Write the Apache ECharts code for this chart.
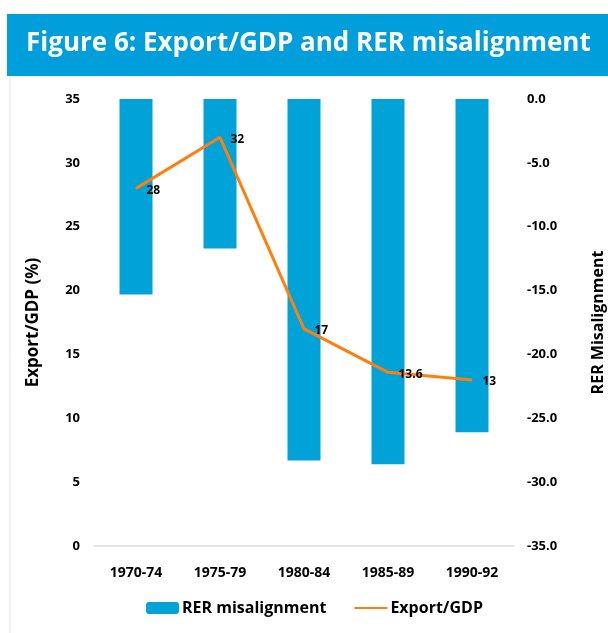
<!DOCTYPE html>
<html lang="en">
<head>
  <meta charset="UTF-8">
  <title>Figure 6</title>
  <style>
    html, body { margin: 0; padding: 0; background: #fff; }
    #main { width: 608px; height: 633px; }
  </style>
</head>
<body>
<div id="main"></div>
<script src="https://cdn.jsdelivr.net/npm/echarts@6/dist/echarts.min.js"></script>
<script type="text/javascript">
  const periods = ['1970-74', '1975-79', '1980-84', '1985-89', '1990-92']
  const rerMisalignment = [-15.3, -11.7, -28.3, -28.6, -26.1]
  const exportGdp = [28, 32, 17, 13.6, 13]

  const font = '"Open Sans", "Noto Sans", sans-serif'
  const Chart = echarts.init(document.getElementById('main'))

  const option = {
    animation: false,
    textStyle: {fontFamily: font},
    graphic: [
      {type: 'rect', shape: {x: 7, y: 14, width: 601, height: 62}, style: {fill: '#009edb'}},
      {type: 'line', shape: {x1: 10, y1: 76, x2: 10, y2: 633}, style: {stroke: '#e3e3e3', lineWidth: 1}}
    ],
    title: {
      text: 'Figure 6: Export/GDP and RER misalignment',
      left: 21,
      top: 26,
      textStyle: {color: '#fff', fontSize: 26, fontWeight: 'bold', fontFamily: font}
    },
    legend: {
      bottom: 12,
      left: 141,
      itemGap: 27,
      itemWidth: 33,
      itemHeight: 12,
      textStyle: {fontSize: 16, fontWeight: 'bold', color: '#000', fontFamily: font, padding: [0, 0, 0, -2]},
      data: [
        {name: 'RER misalignment'},
        {name: 'Export/GDP', itemStyle: {opacity: 0}}
      ]
    },
    grid: {left: 94, right: 94, top: 99, bottom: 87, outerBoundsMode: 'none', containLabel: false},
    xAxis: {
      type: 'category',
      data: periods,
      axisLine: {lineStyle: {color: '#d9d9d9', width: 1.5}},
      axisTick: {show: false},
      axisLabel: {fontSize: 14, fontWeight: 'bold', color: '#000', margin: 20}
    },
    yAxis: [
      {
        type: 'value',
        min: 0,
        max: 35,
        interval: 5,
        name: 'Export/GDP (%)',
        nameLocation: 'middle',
        nameRotate: 90,
        nameGap: 52,
        nameTextStyle: {fontSize: 17, fontWeight: 'bold', color: '#000'},
        splitLine: {show: false},
        axisLine: {show: false},
        axisTick: {show: false},
        axisLabel: {fontSize: 13, fontWeight: 'bold', color: '#000', margin: 14}
      },
      {
        type: 'value',
        min: -35,
        max: 0,
        interval: 5,
        position: 'right',
        name: 'RER Misalignment',
        nameLocation: 'middle',
        nameRotate: 90,
        nameGap: 76,
        nameTextStyle: {fontSize: 16, fontWeight: 'bold', color: '#000'},
        splitLine: {show: false},
        axisLine: {show: false},
        axisTick: {show: false},
        axisLabel: {
          fontSize: 13, fontWeight: 'bold', color: '#000', margin: 13,
          formatter: (v) => v.toFixed(1)
        }
      }
    ],
    series: [
      {
        name: 'RER misalignment',
        type: 'bar',
        yAxisIndex: 1,
        barWidth: 33,
        itemStyle: {color: '#00a3d7'},
        data: rerMisalignment
      },
      {
        name: 'Export/GDP',
        type: 'line',
        yAxisIndex: 0,
        symbol: 'circle',
        symbolSize: 1,
        showSymbol: true,
        lineStyle: {color: '#ff7f0e', width: 3},
        itemStyle: {color: '#ff7f0e'},
        label: {
          show: true,
          position: 'right',
          distance: 10,
          offset: [0, 2],
          fontSize: 12,
          fontWeight: 'bold',
          color: '#000'
        },
        data: exportGdp
      }
    ]
  }

  Chart.setOption(option)
</script>
</body>
</html>
